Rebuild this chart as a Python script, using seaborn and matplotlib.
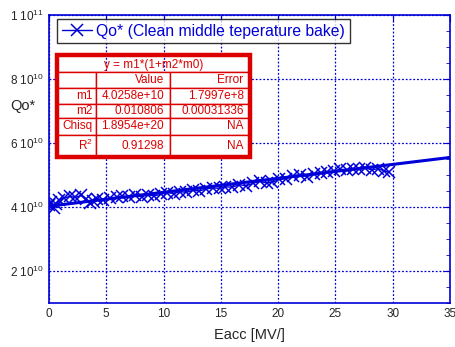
import numpy as np
import pandas as pd
import matplotlib
matplotlib.use("Agg")
import matplotlib.pyplot as plt
import seaborn as sns
from matplotlib.patches import Rectangle
from matplotlib.ticker import MultipleLocator, FixedLocator

# data (Qo* in units of 1e10)
eacc = [0.0, 0.2, 0.4, 0.6, 0.9, 1.3, 1.8, 2.3, 2.8, 3.2, 3.6, 3.8, 4.2, 4.7,
        5.3, 5.9, 6.4, 7.0, 7.5, 8.1, 8.6, 9.2, 9.8, 10.3, 10.9, 11.4, 12.0,
        12.6, 13.1, 13.7, 14.3, 14.9, 15.4, 16.0, 16.6, 17.2, 17.8, 18.4, 19.0,
        19.5, 20.1, 20.7, 21.3, 21.9, 22.5, 23.1, 23.7, 24.3, 24.9, 25.4, 26.0,
        26.5, 27.1, 27.6, 28.2, 28.7, 29.2, 29.7]
qo = [4.05, 4.15, 3.98, 4.10, 4.22, 4.28, 4.33, 4.30, 4.36, 4.25, 4.12, 4.20,
      4.26, 4.22, 4.28, 4.30, 4.34, 4.30, 4.36, 4.32, 4.38, 4.35, 4.40, 4.45,
      4.42, 4.48, 4.46, 4.52, 4.50, 4.56, 4.60, 4.58, 4.63, 4.62, 4.70, 4.66,
      4.74, 4.80, 4.75, 4.78, 4.86, 4.88, 4.98, 5.00, 4.95, 5.02, 5.06, 5.10,
      5.12, 5.18, 5.16, 5.20, 5.18, 5.22, 5.16, 5.20, 5.14, 5.08]

m1 = 4.0258e10
m2 = 0.010806
fit_x = [0, 35]

table_rows = ["", "m1", "m2", "Chisq", "R$^2$"]
table_value = ["Value", "4.0258e+10", "0.010806", "1.8954e+20", "0.91298"]
table_error = ["Error", "1.7997e+8", "0.00031336", "NA", "NA"]
table_title = "y = m1*(1+m2*m0)"

blue = "#0000d8"
red = "#dd0000"

sns.set_style("white")
plt.rcParams['font.family'] = ['Liberation Sans', 'DejaVu Sans']
plt.rcParams['mathtext.fontset'] = 'custom'
plt.rcParams['mathtext.rm'] = 'Liberation Sans'
plt.rcParams['mathtext.it'] = 'Liberation Sans'

df = pd.DataFrame({"Eacc": eacc, "Qo": np.array(qo) * 1e10})
fit_df = pd.DataFrame({"Eacc": fit_x, "Qo": [m1 * (1 + m2 * x) for x in fit_x]})

fig = plt.figure(figsize=(4.55, 3.47), dpi=100)
ax = fig.add_axes([49 / 455, 1 - 303 / 347, 401 / 455, 288 / 347])

sns.lineplot(data=df, x="Eacc", y="Qo", ax=ax, color=blue, marker="x",
             markersize=9, markeredgewidth=1.1, markeredgecolor=blue,
             linewidth=1.0, sort=False,
             label="Qo* (Clean middle teperature bake)")
sns.lineplot(data=fit_df, x="Eacc", y="Qo", ax=ax, color=blue, linewidth=2.2,
             legend=False)

ax.set_xlim(0, 35)
ax.set_ylim(1e10, 1e11)
ax.xaxis.set_major_locator(MultipleLocator(5))
ax.yaxis.set_major_locator(FixedLocator([2e10, 4e10, 6e10, 8e10, 1e11]))
ax.yaxis.set_minor_locator(MultipleLocator(5e9))
ax.set_yticklabels(["2 10$^{10}$", "4 10$^{10}$", "6 10$^{10}$",
                    "8 10$^{10}$", "1 10$^{11}$"])
ax.tick_params(which="both", direction="in", top=True, right=True,
               color=blue, labelsize=8.5)
ax.tick_params(which="major", length=5)
ax.tick_params(which="minor", length=3)
ax.grid(True, which="major", color=blue, linestyle=(0, (1.5, 1.5)), linewidth=0.9)
for s in ax.spines.values():
    s.set_color(blue)
    s.set_linewidth(1.2)

ax.set_xlabel("Eacc [MV/]", fontsize=10.5, labelpad=6)
ax.set_ylabel("Qo*", fontsize=10.5, rotation=0, ha="center")
ax.yaxis.set_label_coords(-0.065, 0.66)

leg = ax.legend(loc="upper left", bbox_to_anchor=(8 / 401, 1 - 4 / 288),
                fontsize=11.3, frameon=True, fancybox=False, handlelength=1.9,
                borderpad=0.3, handletextpad=0.3, borderaxespad=0)
leg.get_frame().set_edgecolor("black")
leg.get_frame().set_linewidth(1.0)
for t in leg.get_texts():
    t.set_color(blue)

# fit table
W, H = 455, 347
tx0, tx1, ty0, ty1 = 57, 250, 55, 157
row_h = [17, 15, 16, 14, 16, 22]
cells = [["", "", ""]] + [[r, v, e] for r, v, e in zip(table_rows, table_value, table_error)]
tbl = ax.table(cellText=cells, colWidths=[39, 74, 80],
               bbox=[(tx0 - 49) / 401, (303 - ty1) / 288,
                     (tx1 - tx0) / 401, (ty1 - ty0) / 288],
               cellLoc="right", zorder=5)
tbl.auto_set_font_size(False)
for (r, c), cell in tbl.get_celld().items():
    cell.set_height(row_h[r] / 100)
    cell.set_edgecolor(red)
    cell.set_linewidth(1.0)
    cell.set_facecolor("white")
    cell.get_text().set_color(red)
    cell.get_text().set_fontsize(8.5)
    cell.PAD = 0.08
    if r == 0:
        cell.visible_edges = {0: "BLT", 1: "BT", 2: "BRT"}[c]
fig.text((tx0 + tx1) / 2 / W, 1 - 65 / H, table_title, color=red,
         fontsize=8.5, ha="center", va="center", zorder=6)
fig.patches.append(Rectangle((tx0 / W, 1 - ty1 / H), (tx1 - tx0) / W,
                             (ty1 - ty0) / H, transform=fig.transFigure,
                             fill=False, edgecolor=red, linewidth=3.2,
                             zorder=7))

fig.savefig("out.png", dpi=100)
